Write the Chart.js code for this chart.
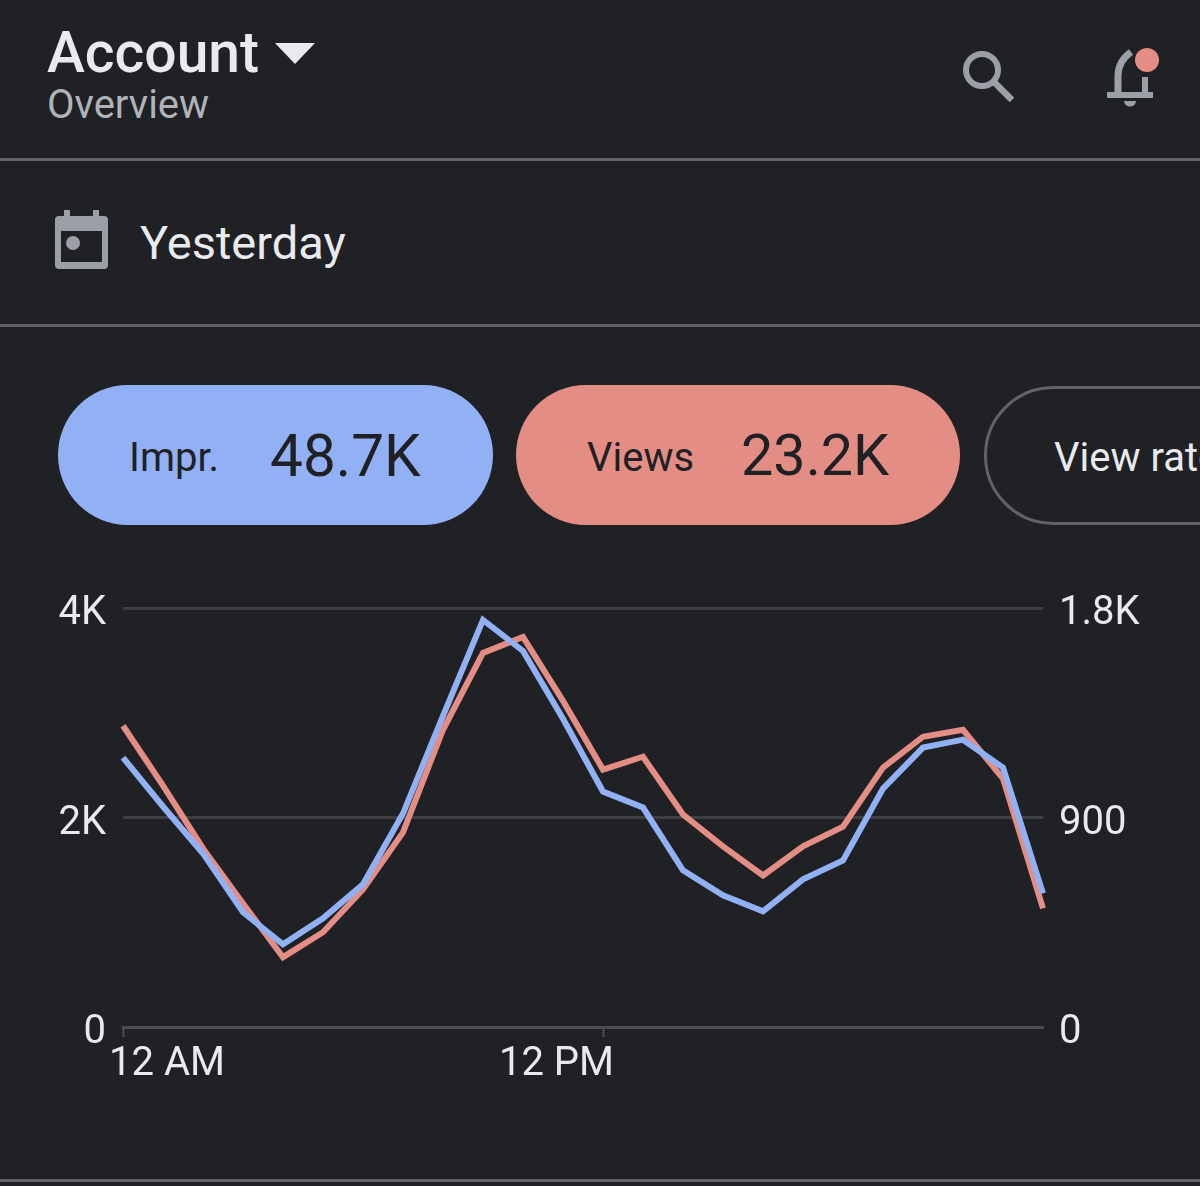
<!DOCTYPE html>
<html>
<head>
<meta charset="utf-8">
<title>Account overview</title>
<script src="https://cdn.jsdelivr.net/npm/chart.js@4"></script>
<style>
    html, body { margin: 0; padding: 0; background: #202124; }
    body { position: relative; width: 1200px; height: 1186px; overflow: hidden; font-family: Roboto, sans-serif; }
    .txt { position: absolute; white-space: nowrap; line-height: 1; }
    .rule { position: absolute; left: 0; width: 1200px; height: 3px; background: #5f6368; }
    .pill { position: absolute; top: 385px; height: 140px; border-radius: 70px; box-sizing: border-box; }
    svg { position: absolute; left: 0; top: 0; }
    #chartBox { position: absolute; left: 0; top: 567px; width: 1200px; height: 533px; }
</style>
</head>
<body>
    <div class="txt" style="left:47px;top:24px;font-size:57px;font-weight:500;color:#e8eaed">Account</div>
    <div class="txt" style="left:47px;top:85px;font-size:40px;color:#b0b3b8">Overview</div>
    <div class="rule" style="top:158px"></div>

    <div class="txt" style="left:140px;top:219px;font-size:47px;color:#e8eaed">Yesterday</div>
    <div class="rule" style="top:324px"></div>

    <div class="pill" style="left:58px;width:435px;background:#92b1f4"></div>
    <div class="txt" style="left:129px;top:438px;font-size:40px;color:#202124">Impr.</div>
    <div class="txt" style="left:270px;top:427px;font-size:58.5px;color:#202124">48.7K</div>

    <div class="pill" style="left:516px;width:444px;background:#e38d84"></div>
    <div class="txt" style="left:587px;top:438px;font-size:40px;color:#202124">Views</div>
    <div class="txt" style="left:741px;top:427px;font-size:57.5px;color:#202124">23.2K</div>

    <div class="pill" style="left:984px;top:386px;height:139px;width:400px;border:3px solid #5f6368"></div>
    <div class="txt" style="left:1054px;top:438px;font-size:40px;color:#e8eaed">View rate</div>

    <div class="rule" style="top:1179px"></div>

    <svg width="1200" height="340">
        <!-- dropdown arrow -->
        <path d="M275 43H315L295 64Z" fill="#e8eaed"/>
        <!-- search -->
        <circle cx="982" cy="70" r="16" fill="none" stroke="#9aa0a6" stroke-width="6"/>
        <path d="M994 82L1012 100" stroke="#9aa0a6" stroke-width="6.5"/>
        <!-- bell -->
        <path d="M1118 93V76C1118 65 1124 57 1131 52" fill="none" stroke="#9aa0a6" stroke-width="7"/>
        <path d="M1145 77V93" stroke="#9aa0a6" stroke-width="6"/>
        <path d="M1107 95H1153" stroke="#9aa0a6" stroke-width="6"/>
        <path d="M1124 101H1136A6 5.5 0 0 1 1124 101Z" fill="#9aa0a6"/>
        <circle cx="1147" cy="60" r="12" fill="#e38d84"/>
        <!-- calendar -->
        <path d="M64 210h6v7h-6zM93 210h6v7h-6z" fill="#9aa0a6"/>
        <rect x="55" y="216" width="53" height="53" rx="4" fill="#9aa0a6"/>
        <rect x="61" y="231" width="41" height="31" fill="#202124"/>
        <circle cx="73" cy="243" r="7" fill="#9aa0a6"/>
    </svg>

    <div id="chartBox"><canvas id="myChart"></canvas></div>

<script>
document.addEventListener('DOMContentLoaded', () => {
    const hours = ['12 AM', '1 AM', '2 AM', '3 AM', '4 AM', '5 AM', '6 AM', '7 AM', '8 AM', '9 AM', '10 AM', '11 AM',
                   '12 PM', '1 PM', '2 PM', '3 PM', '4 PM', '5 PM', '6 PM', '7 PM', '8 PM', '9 PM', '10 PM', '11 PM'];
    const impressions = [2571, 2105, 1657, 1095, 790, 1038, 1362, 2038, 2971, 3886, 3590, 2943,
                         2248, 2095, 1495, 1257, 1105, 1410, 1590, 2276, 2667, 2743, 2476, 1276];
    const views = [1294, 1037, 767, 531, 300, 407, 591, 836, 1277, 1607, 1676, 1401,
                   1106, 1161, 913, 776, 651, 776, 861, 1114, 1247, 1277, 1067, 510];
    const leftTicks = [0, 2000, 4000];
    const rightTicks = [0, 900, 1800];
    const hourTicks = [0, 12];

    const textColor = '#e8eaed';
    const gridColor = '#3c3e41';
    const axisColor = '#4a4c50';

    const shortNumber = (v) => v >= 1000 ? `${v / 1000}K` : `${v}`;
    const fixTicks = (values) => (scale) => { scale.ticks = values.map(v => ({ value: v })); };

    // hour labels sit off-centre from their ticks: first one hangs left, the noon one ends just past its tick
    const hourLabels = {
        id: 'hourLabels',
        afterDraw(chart) {
            const { ctx, chartArea, scales: { x } } = chart;
            ctx.save();
            ctx.font = '40px Roboto';
            ctx.fillStyle = textColor;
            ctx.textBaseline = 'middle';
            hourTicks.forEach((h, i) => {
                const px = x.getPixelForValue(h);
                ctx.textAlign = i === 0 ? 'left' : 'right';
                ctx.fillText(hours[h], i === 0 ? px - 14 : px + 11, chartArea.bottom + 38);
            });
            ctx.restore();
        }
    };

    new Chart(document.getElementById('myChart'), {
        type: 'line',
        data: {
            labels: hours,
            datasets: [{
                label: 'Impr.',
                data: impressions,
                yAxisID: 'y',
                borderColor: '#92b1f4',
                borderWidth: 6,
                pointRadius: 0,
                tension: 0
            }, {
                label: 'Views',
                data: views,
                yAxisID: 'y1',
                borderColor: '#e38d84',
                borderWidth: 6,
                pointRadius: 0,
                tension: 0
            }]
        },
        plugins: [hourLabels],
        options: {
            responsive: true,
            maintainAspectRatio: false,
            animation: false,
            plugins: { legend: { display: false }, tooltip: { enabled: false } },
            scales: {
                x: {
                    type: 'category',
                    offset: false,
                    afterBuildTicks: fixTicks(hourTicks),
                    afterFit: (scale) => { scale.height = 73; },
                    ticks: { display: false },
                    border: { display: true, color: axisColor, width: 3 },
                    grid: { drawOnChartArea: false, drawTicks: true, tickLength: 10, tickWidth: 2, tickColor: axisColor }
                },
                y: {
                    position: 'left',
                    min: 0,
                    max: 4000,
                    afterBuildTicks: fixTicks(leftTicks),
                    afterFit: (scale) => { scale.width = 123; },
                    ticks: { color: textColor, font: { family: 'Roboto', size: 40 }, padding: 17, labelOffset: 6, callback: shortNumber },
                    border: { display: false },
                    grid: { color: gridColor, lineWidth: 3, drawTicks: false }
                },
                y1: {
                    position: 'right',
                    min: 0,
                    max: 1800,
                    afterBuildTicks: fixTicks(rightTicks),
                    afterFit: (scale) => { scale.width = 157; },
                    ticks: { color: textColor, font: { family: 'Roboto', size: 40 }, padding: 16, labelOffset: 6, callback: shortNumber },
                    border: { display: false },
                    grid: { drawOnChartArea: false, drawTicks: false }
                }
            }
        }
    });
});
</script>
</body>
</html>
